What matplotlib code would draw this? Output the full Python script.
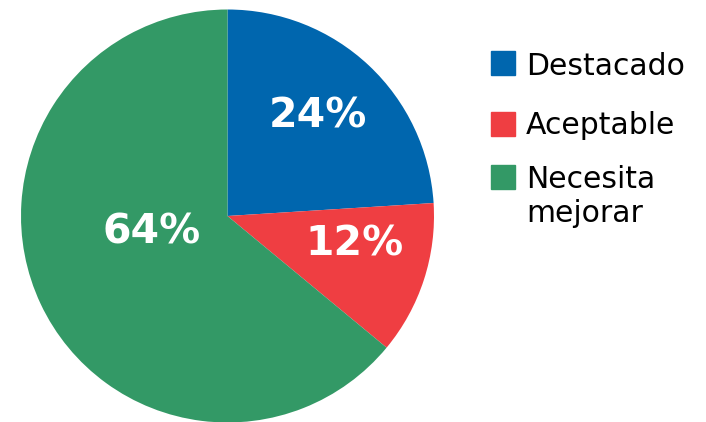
import matplotlib
matplotlib.use("Agg")
import matplotlib.pyplot as plt
from matplotlib.patches import Rectangle

categories = ["Destacado", "Aceptable", "Necesita\nmejorar"]
values = [24, 12, 64]
colors = ["#0066AE", "#EF3E42", "#339966"]

W, H = 706, 422
fig = plt.figure(figsize=(W / 100, H / 100), dpi=100)

# pie axes placed in pixel terms: centre (227.5, 216), radius 206.5
cx, cy, r = 227.5, 216, 206.5
ax = fig.add_axes([(cx - r) / W, (H - cy - r) / H, 2 * r / W, 2 * r / H])
wedges, _ = ax.pie(values, colors=colors, startangle=90, counterclock=False,
                   radius=1.0, wedgeprops=dict(linewidth=0))
ax.set_xlim(-1, 1)
ax.set_ylim(-1, 1)
ax.set_aspect("equal")
ax.axis("off")

# percentage labels
label_pos = [(0.44, 0.48), (0.617, -0.14), (-0.366, -0.082)]
for v, (x, y) in zip(values, label_pos):
    ax.text(x, y, f"{v}%", color="white", fontsize=29.5, fontweight="bold",
            ha="center", va="center")

# legend drawn in pixel coordinates (square tops, text baselines per line)
sq_tops = [51, 112, 165]
baselines = [[75], [134], [188, 222]]
for lab, col, top, bls in zip(categories, colors, sq_tops, baselines):
    fig.patches.append(Rectangle((491 / W, (H - top - 24) / H), 24 / W, 24 / H,
                                 transform=fig.transFigure, color=col))
    for line, bl in zip(lab.split("\n"), bls):
        fig.text(526 / W, (H - bl) / H, line, fontsize=21.5, color="black",
                 ha="left", va="baseline")

fig.savefig("out.png", dpi=100)
